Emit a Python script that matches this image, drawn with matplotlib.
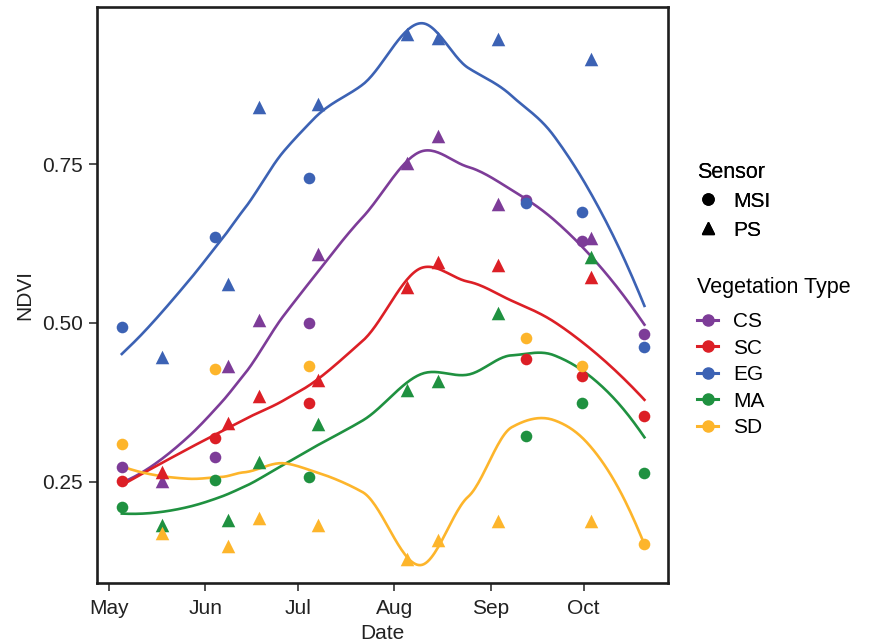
import matplotlib
matplotlib.use("Agg")
import matplotlib.pyplot as plt
from matplotlib.lines import Line2D
import numpy as np

plt.rcParams['font.family'] = ['Liberation Sans', 'DejaVu Sans']

# days after May 1
msi_days = [4.1, 34.2, 64.3, 134.4, 152.5, 172.6]
ps_days = [17.0, 38.3, 48.4, 67.4, 96.0, 106.2, 125.3, 155.4]

types = ['CS', 'SC', 'EG', 'MA', 'SD']
colors = {'CS': '#7D3C98', 'SC': '#DC1F26', 'EG': '#3C62B4',
          'MA': '#1F9140', 'SD': '#FDB52B'}

msi = {
    'CS': [0.274, 0.289, 0.500, 0.693, 0.629, 0.482],
    'SC': [0.252, 0.319, 0.374, 0.444, 0.417, 0.354],
    'EG': [0.493, 0.636, 0.728, 0.688, 0.675, 0.462],
    'MA': [0.210, 0.253, 0.257, 0.322, 0.374, 0.264],
    'SD': [0.310, 0.427, 0.432, 0.476, 0.433, 0.152],
}
ps = {
    'CS': [0.252, 0.432, 0.504, 0.608, 0.751, 0.794, 0.687, 0.633],
    'SC': [0.266, 0.343, 0.385, 0.410, 0.557, 0.596, 0.591, 0.572],
    'EG': [0.447, 0.561, 0.840, 0.844, 0.955, 0.948, 0.946, 0.915],
    'MA': [0.183, 0.190, 0.282, 0.341, 0.395, 0.409, 0.516, 0.603],
    'SD': [0.169, 0.149, 0.194, 0.182, 0.128, 0.158, 0.189, 0.189],
}

month_days = [0, 31, 61, 92, 123, 153]
month_labels = ['May', 'Jun', 'Jul', 'Aug', 'Sep', 'Oct']

SPAN = 0.65


def local_fit(x, y, x0, span):
    # local quadratic, tricube weights; returns value and slope
    n = len(x)
    q = int(np.floor(n * span))
    d = np.abs(x - x0)
    h = np.sort(d)[q - 1]
    w = np.clip(1 - (d / h) ** 3, 0, None) ** 3
    A = np.vstack([np.ones(n), x - x0, (x - x0) ** 2]).T
    W = np.diag(w)
    beta = np.linalg.lstsq(A.T @ W @ A, A.T @ W @ y, rcond=None)[0]
    return beta[0], beta[1]


def vertices(xsorted, fc):
    lo, hi = xsorted[0], xsorted[-1]
    t = 0.005 * (hi - lo)
    verts = [lo - t, hi + t]

    def rec(p):
        if len(p) <= fc:
            return
        m = (len(p) - 1) // 2
        verts.append((p[m] + p[m + 1]) / 2)
        rec(p[:m + 1])
        rec(p[m + 1:])
    rec(list(xsorted))
    return np.array(sorted(verts))


def loess(x, y, xs, span=SPAN):
    # loess-like smoother: exact fits at kd vertices, hermite in between
    x = np.asarray(x); y = np.asarray(y)
    fc = int(np.floor(len(x) * span * 0.2))
    vs = vertices(np.sort(x), fc)
    vals = np.array([local_fit(x, y, v, span) for v in vs])
    out = []
    for x0 in xs:
        i = max(min(np.searchsorted(vs, x0) - 1, len(vs) - 2), 0)
        x1, x2 = vs[i], vs[i + 1]
        hh = x2 - x1
        s = (x0 - x1) / hh
        h00 = 2*s**3 - 3*s**2 + 1
        h10 = s**3 - 2*s**2 + s
        h01 = -2*s**3 + 3*s**2
        h11 = s**3 - s**2
        out.append(h00*vals[i, 0] + h10*hh*vals[i, 1]
                   + h01*vals[i+1, 0] + h11*hh*vals[i+1, 1])
    return np.array(out)


fig = plt.figure(figsize=(8.72, 6.42), dpi=100)
ax = fig.add_axes([97/872, 1-583/642, (668-97)/872, (583-7)/642])

for t in types:
    c = colors[t]
    xall = np.array(msi_days + ps_days)
    yall = np.array(msi[t] + ps[t])
    xs = np.linspace(xall.min(), xall.max(), 300)
    ax.plot(xs, loess(xall, yall, xs), color=c, lw=1.9, zorder=2)
    ax.scatter(msi_days, msi[t], marker='o', s=70, color=c, lw=0, zorder=3)
    ax.scatter(ps_days, ps[t], marker='^', s=95, color=c, lw=0, zorder=3)

ax.set_xlim(-3.9, 180.2)
ax.set_ylim(0.091, 0.997)
ax.set_xticks(month_days)
ax.set_xticklabels(month_labels)
ax.set_yticks([0.25, 0.50, 0.75])
ax.set_yticklabels(['0.25', '0.50', '0.75'])
ax.tick_params(labelsize=15, length=5.5, width=1.2, color='#333333',
               labelcolor='#222222', pad=4.5)
ax.tick_params(axis='x', pad=6)
for s in ax.spines.values():
    s.set_linewidth(1.9)
    s.set_color('#1e1e1e')
ax.set_xlabel('Date', fontsize=15, color='#222222', labelpad=4)
ax.set_ylabel('NDVI', fontsize=15, color='#222222', labelpad=6)

h1 = [Line2D([], [], marker='o', color='black', lw=0, markersize=8),
      Line2D([], [], marker='^', color='black', lw=0, markersize=9)]
leg1 = fig.legend(h1, ['MSI', 'PS'], title='Sensor', loc='upper left',
                  bbox_to_anchor=(689/872, 1-154/642), frameon=False,
                  borderaxespad=0, fontsize=15, title_fontsize=15.5,
                  alignment='left', handlelength=1.0, handletextpad=0.72,
                  labelspacing=0.48)
leg1._legend_box.sep = 6
h2 = [Line2D([], [], marker='o', color=colors[t], lw=2.2, markersize=8)
      for t in types]
leg2 = fig.legend(h2, types, title='Vegetation Type', loc='upper left',
                  bbox_to_anchor=(689/872, 1-269/642), frameon=False,
                  borderaxespad=0, fontsize=15, title_fontsize=15.5,
                  alignment='left', handlelength=1.0, handletextpad=0.72,
                  labelspacing=0.36)
leg2._legend_box.sep = 10
fig.add_artist(leg1)

fig.savefig('out.png', dpi=100)
